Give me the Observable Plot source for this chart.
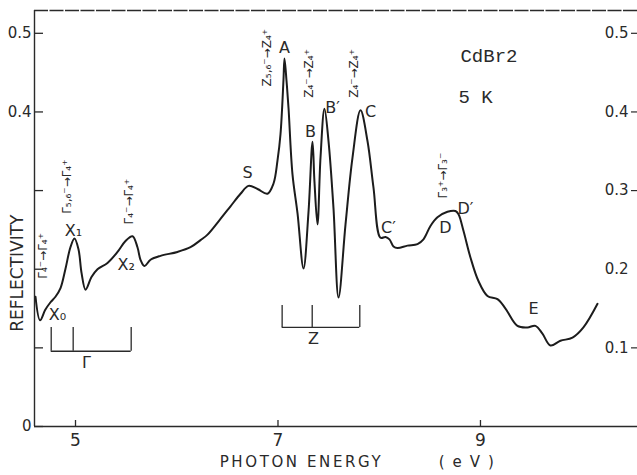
<!DOCTYPE html>
<html><head><meta charset="utf-8">
<script src="https://cdn.jsdelivr.net/npm/d3@7"></script>
<script src="https://cdn.jsdelivr.net/npm/@observablehq/plot@0.6"></script>
<style>body{margin:0;background:#fff}svg{display:block}</style>
</head><body><div id="chart"></div>
<script>
// Reflectivity spectrum of CdBr2 at 5 K
const energy = [4.605,4.650,4.700,4.753,4.802,4.852,4.900,4.950,4.990,5.030,5.060,5.099,5.158,5.217,5.316,5.415,5.494,5.563,5.612,5.642,5.681,5.741,5.840,6.007,6.136,6.235,6.304,6.432,6.531,6.630,6.709,6.798,6.896,6.956,6.995,7.025,7.054,7.064,7.084,7.104,7.143,7.193,7.252,7.301,7.341,7.360,7.390,7.420,7.459,7.499,7.548,7.598,7.667,7.736,7.815,7.884,7.943,8.012,8.062,8.101,8.141,8.180,8.279,8.378,8.437,8.506,8.575,8.674,8.753,8.783,8.832,8.901,8.980,9.069,9.168,9.247,9.365,9.464,9.543,9.612,9.691,9.790,9.909,10.017,10.156];
const reflectivity = [0.165,0.135,0.148,0.158,0.165,0.176,0.200,0.228,0.239,0.225,0.195,0.174,0.190,0.200,0.208,0.222,0.236,0.242,0.228,0.212,0.204,0.212,0.217,0.222,0.228,0.237,0.244,0.264,0.280,0.296,0.306,0.302,0.296,0.309,0.338,0.372,0.440,0.468,0.440,0.405,0.321,0.271,0.201,0.272,0.362,0.312,0.257,0.342,0.404,0.363,0.278,0.164,0.257,0.342,0.402,0.363,0.304,0.240,0.241,0.238,0.229,0.227,0.230,0.232,0.238,0.255,0.266,0.273,0.274,0.270,0.249,0.215,0.185,0.166,0.162,0.150,0.128,0.126,0.128,0.118,0.103,0.109,0.113,0.126,0.156];

// Peak labels
const peakNames = ["X₀","X₁","X₂","S","A","B","B′","C","C′","D","D′","E"];
const peakEnergy = [4.822,4.980,5.500,6.699,7.064,7.321,7.538,7.914,8.091,8.654,8.852,9.523];
const peakReflect = [0.142,0.249,0.206,0.323,0.482,0.375,0.405,0.400,0.253,0.252,0.277,0.150];

// Transition labels (vertical)
const transNames = ["Γ₄⁻→Γ₄⁺","Γ₅,₆⁻→Γ₄⁺","Γ₄⁻→Γ₄⁺","Z₅,₆⁻→Z₄⁺","Z₄⁻→Z₄⁺","Z₄⁻→Z₄⁺","Γ₃⁺→Γ₃⁻"];
const transEnergy = [4.684,4.921,5.533,6.896,7.311,7.756,8.635];
const transReflect = [0.217,0.305,0.286,0.469,0.449,0.449,0.319];

// Brackets
const bracketNames = ["Γ","Z"];
const bracketStart = [4.760,7.041];
const bracketMid = [4.977,7.338];
const bracketEnd = [5.550,7.808];
const bracketLow = [0.0957,0.126];
const bracketHigh = [0.126,0.154];
const bracketLabelR = [0.081,0.112];
const bracketLabelE = [5.109,7.351];

// Axes
const xDomain = [4.595,10.551];
const yDomain = [0,0.529];
const xTicks = [5,7,9];
const leftTicks = [0,0.1,0.2,0.3,0.4,0.5];
const leftLabels = [0,0.4,0.5];
const rightTickMarks = [0.1,0.3,0.4,0.5];
const rightLabels = [0.1,0.2,0.3,0.4,0.5];
const yTitle = ["REFLECTIVITY"];
const yTitleR = [0.195];
const xTitles = ["PHOTON ENERGY","(eV)"];
const xTitleE = [7.232,8.90];
const xTitleSpacing = [2.6,8];

// Sample texts
const sampleTexts = ["CdBr2","5 K"];
const sampleEnergy = [8.802,8.783];
const sampleReflect = [0.471,0.419];

const curve = energy.map((e,i)=>({e, r: reflectivity[i]}));
const peaks = peakNames.map((t,i)=>({t, e: peakEnergy[i], r: peakReflect[i]}));
const trans = transNames.map((t,i)=>({t, e: transEnergy[i], r: transReflect[i]}));
const brackets = bracketNames.map((t,i)=>({t, s: bracketStart[i], m: bracketMid[i], en: bracketEnd[i], lo: bracketLow[i], hi: bracketHigh[i], le: bracketLabelE[i], lr: bracketLabelR[i]}));
const bracketRules = brackets.flatMap(b => [b.s, b.m, b.en].map(x => ({x, lo: b.lo, hi: b.hi})));
const samples = sampleTexts.map((t,i)=>({t, e: sampleEnergy[i], r: sampleReflect[i]}));

const ink = "#2a2a2a";
const font = "DejaVu Sans";

const chart = Plot.plot({
  width: 637, height: 475,
  marginLeft: 34, marginRight: 0, marginTop: 10, marginBottom: 49,
  style: {fontFamily: font, background: "#fff", color: ink},
  x: {domain: xDomain, axis: null},
  y: {domain: yDomain, axis: null},
  marks: [
    // frame lines
    Plot.ruleX([xDomain[0]], {stroke: ink, strokeWidth: 1.4}),
    Plot.ruleY([0], {stroke: ink, strokeWidth: 1.4}),
    Plot.ruleY([yDomain[1]], {stroke: ink, strokeWidth: 1.4, strokeDasharray: "14,1.5"}),
    // left inward ticks and labels
    Plot.axisY({anchor: "left", ticks: leftTicks, tickSize: 9, dx: 9, tickFormat: () => "", stroke: ink, strokeWidth: 1.3, label: null}),
    Plot.axisY({anchor: "left", ticks: leftLabels, tickSize: 0, tickPadding: 3, tickFormat: d => d === 0 ? "0" : d3.format(".1f")(d), fontSize: 15, fill: ink, label: null}),
    // right-hand duplicate labels
    Plot.axisY({anchor: "left", ticks: rightTickMarks, tickSize: 6, dx: 603, tickFormat: () => "", stroke: ink, strokeWidth: 1.2, label: null}),
    Plot.axisY({anchor: "left", ticks: rightLabels, tickSize: 0, tickPadding: 9, dx: 603, tickFormat: d3.format(".1f"), fontSize: 15, fill: ink, label: null}),
    // x ticks inward + labels
    Plot.axisX({anchor: "bottom", ticks: xTicks, tickSize: 6, dy: -6, tickFormat: () => "", stroke: ink, strokeWidth: 1.3, label: null}),
    Plot.axisX({anchor: "bottom", ticks: xTicks, tickSize: 0, tickPadding: 7, tickFormat: d3.format("d"), fontSize: 17, fill: ink, label: null}),
    // axis titles
    Plot.text(yTitle, {x: [xDomain[0]], y: yTitleR, dx: -17, rotate: -90, text: d => d, fontSize: 17, letterSpacing: 2.2, fill: ink}),
    Plot.text(xTitles, {x: xTitleE, frameAnchor: "bottom", dy: 40, text: d => d, fontSize: 15, letterSpacing: (d, i) => xTitleSpacing[i], fill: ink}),
    // brackets
    Plot.ruleX(bracketRules, {x: "x", y1: "lo", y2: "hi", stroke: ink, strokeWidth: 1.3}),
    Plot.ruleY(brackets, {y: "lo", x1: "s", x2: "en", stroke: ink, strokeWidth: 1.3}),
    Plot.text(brackets, {x: "le", y: "lr", text: "t", fontSize: 16, fill: ink}),
    // curve
    Plot.line(curve, {x: "e", y: "r", curve: "catmull-rom", stroke: "#1c1c1c", strokeWidth: 2}),
    // labels
    Plot.text(peaks, {x: "e", y: "r", text: "t", fontSize: 16, fill: ink}),
    Plot.text(trans, {x: "e", y: "r", text: "t", rotate: -90, fontSize: 12, fill: ink}),
    Plot.text(samples, {x: "e", y: "r", text: "t", textAnchor: "start", fontFamily: "Liberation Mono", fontSize: 19, letterSpacing: 1.5, fill: ink})
  ]
});
// per-title letter spacing (channel not supported for letterSpacing)
chart.querySelectorAll("text").forEach(t => {
  if (t.textContent === "PHOTON ENERGY") t.setAttribute("letter-spacing", xTitleSpacing[0]);
  if (t.textContent === "(eV)") t.setAttribute("letter-spacing", xTitleSpacing[1]);
});
document.getElementById("chart").appendChild(chart);
</script>
</body></html>
